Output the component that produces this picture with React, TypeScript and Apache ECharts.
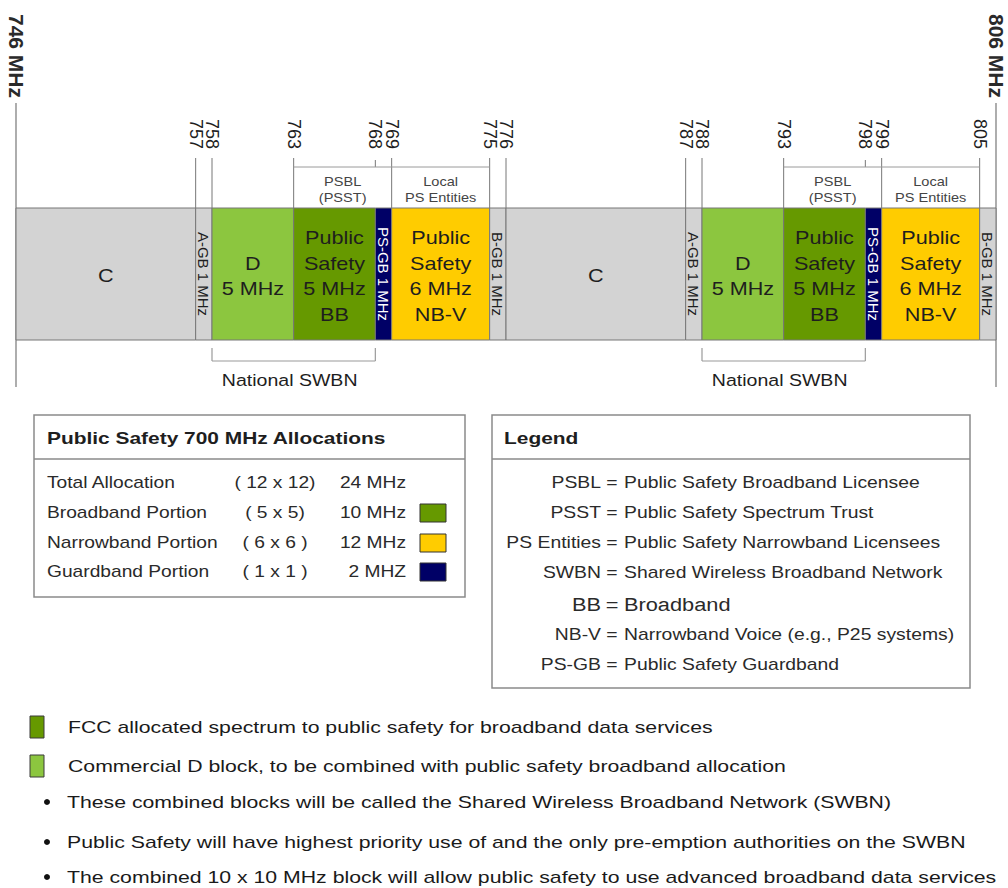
import React, { useEffect, useRef } from "react";
import * as echarts from "echarts";

// ---------- data ----------
const bandMin = 746;
const bandMax = 806;
const blockFrom = [746, 757, 758, 763, 768, 769, 775, 776, 787, 788, 793, 798, 799, 805];
const blockTo = [757, 758, 763, 768, 769, 775, 776, 787, 788, 793, 798, 799, 805, 806];
const blockType = ["C", "GB", "D", "BB", "PSGB", "NB", "GB", "C", "GB", "D", "BB", "PSGB", "NB", "GB"];
const blockLabel = [
  "C", "A-GB 1 MHz", "D\n5 MHz", "Public\nSafety\n5 MHz\nBB", "PS-GB 1 MHz", "Public\nSafety\n6 MHz\nNB-V", "B-GB 1 MHz",
  "C", "A-GB 1 MHz", "D\n5 MHz", "Public\nSafety\n5 MHz\nBB", "PS-GB 1 MHz", "Public\nSafety\n6 MHz\nNB-V", "B-GB 1 MHz",
];
const tickFreq = [757, 758, 763, 768, 769, 775, 776, 787, 788, 793, 798, 799, 805];
const shortTickFreq = [768, 798];
const edgeFreq = [746, 806];
const edgeLabel = ["746 MHz", "806 MHz"];
const psblStart = [763, 793];
const psblSplit = [769, 799];
const psblEnd = [775, 805];
const psblLabel = ["PSBL\n(PSST)", "Local\nPS Entities"];
const swbnStart = [758, 788];
const swbnEnd = [768, 798];
const swbnLabel = "National SWBN";

const allocTitle = "Public Safety 700 MHz Allocations";
const allocNames = ["Total Allocation", "Broadband Portion", "Narrowband Portion", "Guardband Portion"];
const allocPairs = ["( 12 x 12)", "( 5 x 5)", "( 6 x 6 )", "( 1 x 1 )"];
const allocMHz = ["24 MHz", "10 MHz", "12 MHz", "2 MHZ"];
const allocType = ["", "BB", "NB", "PSGB"];

const legendTitle = "Legend";
const legendKeys = ["PSBL", "PSST", "PS Entities", "SWBN", "BB", "NB-V", "PS-GB"];
const legendDefs = [
  "Public Safety Broadband Licensee",
  "Public Safety Spectrum Trust",
  "Public Safety Narrowband Licensees",
  "Shared Wireless Broadband Network",
  "Broadband",
  "Narrowband Voice (e.g., P25 systems)",
  "Public Safety Guardband",
];

const noteTypes = ["BB", "D"];
const noteTexts = [
  "FCC allocated spectrum to public safety for broadband data services",
  "Commercial D block, to be combined with public safety broadband allocation",
];
const bulletTexts = [
  "These combined blocks will be called the Shared Wireless Broadband Network (SWBN)",
  "Public Safety will have highest priority use of and the only pre-emption authorities on the SWBN",
  "The combined 10 x 10 MHz block will allow public safety to use advanced broadband data services",
];

// ---------- style ----------
const COLORS: Record<string, string> = {
  C: "#d3d3d3",
  GB: "#d3d3d3",
  D: "#8cc63f",
  BB: "#669900",
  PSGB: "#000066",
  NB: "#ffcc00",
};
const FONT = '"Liberation Sans", Arial, Helvetica, sans-serif';
const INK = "#1e1e1e";
const LINE = "#8a8a8a";

const BAR_TOP = 208;
const BAR_BOTTOM = 340;
const TICK_TOP = 158;
const TICK_LABEL_Y = 134;
const EDGE_TOP = 103;
const EDGE_BOTTOM = 387;
const EDGE_LABEL_Y = 56;
const PSBL_Y = 167;
const PSBL_TICK_TOP = 160;
const PSBL_TEXT_Y = 190;
const SWBN_TOP = 348;
const SWBN_Y = 361;
const SWBN_TEXT_Y = 380;

function textEl(x: number, y: number, text: string, o: any = {}) {
  return {
    type: "text",
    x,
    y,
    rotation: o.rotation || 0,
    scaleX: o.scaleX || 1,
    z: o.z || 10,
    silent: true,
    style: {
      text,
      font: o.font || `16px ${FONT}`,
      fill: o.fill || INK,
      align: o.align || "left",
      verticalAlign: o.verticalAlign || "middle",
      textAlign: o.align || "left",
      textVerticalAlign: o.verticalAlign || "middle",
      lineHeight: o.lineHeight,
    },
  };
}

function lineEl(x1: number, y1: number, x2: number, y2: number, stroke = LINE, lineWidth = 1) {
  return {
    type: "line",
    silent: true,
    shape: { x1, y1, x2, y2 },
    style: { stroke, lineWidth },
  };
}

export default function App() {
  const ref = useRef<HTMLDivElement>(null);

  useEffect(() => {
    if (!ref.current) return;
    const chart = echarts.init(ref.current, undefined, { renderer: "svg" });

    const blockData = blockFrom.map((f, i) => [f, blockTo[i], i]);

    const blockSeries = {
      type: "custom",
      name: "blocks",
      coordinateSystem: "cartesian2d",
      encode: { x: [0, 1] },
      data: blockData,
      renderItem: (params: any, api: any) => {
        const i = api.value(2);
        const p0 = api.coord([api.value(0), BAR_TOP]);
        const p1 = api.coord([api.value(1), BAR_BOTTOM]);
        const w = p1[0] - p0[0];
        const cx = (p0[0] + p1[0]) / 2;
        const cy = (p0[1] + p1[1]) / 2;
        const type = blockType[i];
        const narrow = api.value(1) - api.value(0) <= 1;
        const children: any[] = [
          {
            type: "rect",
            shape: { x: p0[0], y: p0[1], width: w, height: p1[1] - p0[1] },
            style: { fill: COLORS[type], stroke: "#777777", lineWidth: 1 },
          },
        ];
        if (narrow) {
          children.push(
            textEl(cx, cy, blockLabel[i], {
              rotation: -Math.PI / 2,
              align: "center",
              font: `15px ${FONT}`,
              fill: type === "PSGB" ? "#ffffff" : INK,
            })
          );
        } else {
          children.push(
            textEl(cx, cy + 2, blockLabel[i], {
              align: "center",
              font: `18px ${FONT}`,
              lineHeight: 25.5,
              scaleX: 1.2,
            })
          );
        }
        return { type: "group", children };
      },
    };

    const tickSeries = {
      type: "custom",
      name: "ticks",
      coordinateSystem: "cartesian2d",
      encode: { x: 0 },
      data: tickFreq.map((f) => [f]),
      renderItem: (params: any, api: any) => {
        const f = api.value(0);
        const p = api.coord([f, BAR_TOP]);
        const isShort = shortTickFreq.indexOf(f) >= 0;
        const top = api.coord([f, isShort ? PSBL_TICK_TOP : TICK_TOP]);
        const bottom = api.coord([f, isShort ? PSBL_Y : BAR_TOP]);
        return {
          type: "group",
          children: [
            lineEl(p[0], top[1], p[0], bottom[1], "#777777", 1),
            textEl(p[0], api.coord([f, TICK_LABEL_Y])[1], String(f), {
              rotation: -Math.PI / 2,
              align: "center",
              font: `18px ${FONT}`,
            }),
          ],
        };
      },
    };

    const edgeSeries = {
      type: "custom",
      name: "edges",
      coordinateSystem: "cartesian2d",
      encode: { x: 0 },
      data: edgeFreq.map((f, i) => [f, i]),
      renderItem: (params: any, api: any) => {
        const f = api.value(0);
        const i = api.value(1);
        const top = api.coord([f, EDGE_TOP]);
        const bottom = api.coord([f, EDGE_BOTTOM]);
        return {
          type: "group",
          children: [
            lineEl(top[0], top[1], bottom[0], bottom[1], "#777777", 1.2),
            textEl(top[0], api.coord([f, EDGE_LABEL_Y])[1], edgeLabel[i], {
              rotation: -Math.PI / 2,
              align: "center",
              font: `bold 21px ${FONT}`,
              fill: "#2a2a2a",
            }),
          ],
        };
      },
    };

    const psblSeries = {
      type: "custom",
      name: "psbl",
      coordinateSystem: "cartesian2d",
      encode: { x: [0, 2] },
      data: psblStart.map((s, i) => [s, psblSplit[i], psblEnd[i]]),
      renderItem: (params: any, api: any) => {
        const a = api.coord([api.value(0), PSBL_Y]);
        const b = api.coord([api.value(1), PSBL_Y]);
        const c = api.coord([api.value(2), PSBL_Y]);
        const ty = api.coord([api.value(0), PSBL_TEXT_Y])[1];
        return {
          type: "group",
          children: [
            lineEl(a[0], a[1], c[0], c[1], "#9a9a9a", 1),
            textEl((a[0] + b[0]) / 2, ty, psblLabel[0], {
              align: "center",
              font: `13px ${FONT}`,
              lineHeight: 16,
              fill: "#444444",
              scaleX: 1.12,
            }),
            textEl((b[0] + c[0]) / 2, ty, psblLabel[1], {
              align: "center",
              font: `13px ${FONT}`,
              lineHeight: 16,
              fill: "#444444",
              scaleX: 1.12,
            }),
          ],
        };
      },
    };

    const swbnSeries = {
      type: "custom",
      name: "swbn",
      coordinateSystem: "cartesian2d",
      encode: { x: [0, 1] },
      data: swbnStart.map((s, i) => [s, swbnEnd[i]]),
      renderItem: (params: any, api: any) => {
        const a0 = api.coord([api.value(0), SWBN_TOP]);
        const a1 = api.coord([api.value(0), SWBN_Y]);
        const b0 = api.coord([api.value(1), SWBN_TOP]);
        const b1 = api.coord([api.value(1), SWBN_Y]);
        const ty = api.coord([api.value(0), SWBN_TEXT_Y])[1];
        return {
          type: "group",
          children: [
            lineEl(a0[0], a0[1], a1[0], a1[1], "#9a9a9a", 1.2),
            lineEl(b0[0], b0[1], b1[0], b1[1], "#9a9a9a", 1.2),
            lineEl(a1[0], a1[1], b1[0], b1[1], "#9a9a9a", 1.2),
            textEl((a1[0] + b1[0]) / 2 - 4, ty, swbnLabel, {
              align: "center",
              font: `17px ${FONT}`,
              scaleX: 1.15,
            }),
          ],
        };
      },
    };

    // ---------- tables & notes (graphic) ----------
    const g: any[] = [];
    // allocation table
    g.push({
      type: "rect",
      shape: { x: 34, y: 415, width: 431, height: 182 },
      style: { fill: "#ffffff", stroke: LINE, lineWidth: 1.5 },
      z: 1,
    });
    g.push({ ...lineEl(34, 459, 465, 459, LINE, 1.5), z: 2 });
    g.push(textEl(47, 438, allocTitle, { font: `bold 17px ${FONT}`, scaleX: 1.23 }));
    const allocY = [483, 513, 543, 572];
    allocNames.forEach((n, i) => {
      g.push(textEl(47, allocY[i], n, { font: `16px ${FONT}`, scaleX: 1.2, fill: "#2a2a2a" }));
      g.push(textEl(275, allocY[i], allocPairs[i], { font: `16px ${FONT}`, scaleX: 1.2, align: "center", fill: "#2a2a2a" }));
      g.push(textEl(406, allocY[i], allocMHz[i], { font: `16px ${FONT}`, scaleX: 1.2, align: "right", fill: "#2a2a2a" }));
      if (allocType[i]) {
        g.push({
          type: "rect",
          shape: { x: 420, y: allocY[i] - 9, width: 26, height: 18 },
          style: { fill: COLORS[allocType[i]], stroke: "#333333", lineWidth: 1 },
          z: 5,
        });
      }
    });
    // legend table
    g.push({
      type: "rect",
      shape: { x: 492, y: 415, width: 478, height: 273 },
      style: { fill: "#ffffff", stroke: LINE, lineWidth: 1.5 },
      z: 1,
    });
    g.push({ ...lineEl(492, 459, 970, 459, LINE, 1.5), z: 2 });
    g.push(textEl(504, 438, legendTitle, { font: `bold 17px ${FONT}`, scaleX: 1.23 }));
    const legY = [483, 513, 543, 573, 605, 635, 665];
    legendKeys.forEach((k, i) => {
      const big = k === "BB";
      const f = big ? `18px ${FONT}` : `16px ${FONT}`;
      g.push(textEl(601, legY[i], k, { font: f, scaleX: 1.21, align: "right", fill: "#2a2a2a" }));
      g.push(textEl(612, legY[i], "=", { font: f, scaleX: 1.21, align: "center", fill: "#2a2a2a" }));
      g.push(textEl(624, legY[i], legendDefs[i], { font: f, scaleX: 1.21, fill: "#2a2a2a" }));
    });
    // notes
    const noteY = [727, 766];
    noteTexts.forEach((t, i) => {
      g.push({
        type: "rect",
        shape: { x: 30, y: noteY[i] - 11, width: 14, height: 22 },
        style: { fill: COLORS[noteTypes[i]], stroke: "#3a3a3a", lineWidth: 1 },
        z: 5,
      });
      g.push(textEl(68, noteY[i], t, { font: `17px ${FONT}`, scaleX: 1.25, fill: "#1a1a1a" }));
    });
    const bulletY = [802, 842, 877];
    bulletTexts.forEach((t, i) => {
      g.push({
        type: "circle",
        shape: { cx: 47, cy: bulletY[i], r: 3 },
        style: { fill: "#111111" },
        z: 5,
      });
      g.push(textEl(67, bulletY[i], t, { font: `17px ${FONT}`, scaleX: 1.25, fill: "#1a1a1a" }));
    });

    chart.setOption({
      animation: false,
      backgroundColor: "#ffffff",
      grid: { left: 16, right: 12, top: 0, bottom: 0 },
      xAxis: { type: "value", min: bandMin, max: bandMax, show: false },
      yAxis: { type: "value", min: 0, max: 888, inverse: true, show: false },
      series: [tickSeries, edgeSeries, psblSeries, swbnSeries, blockSeries],
      graphic: g,
    });

    return () => chart.dispose();
  }, []);

  return (
    <div
      ref={ref}
      style={{ position: "absolute", left: 0, top: 0, width: 1008, height: 888, background: "#fff" }}
    />
  );
}
